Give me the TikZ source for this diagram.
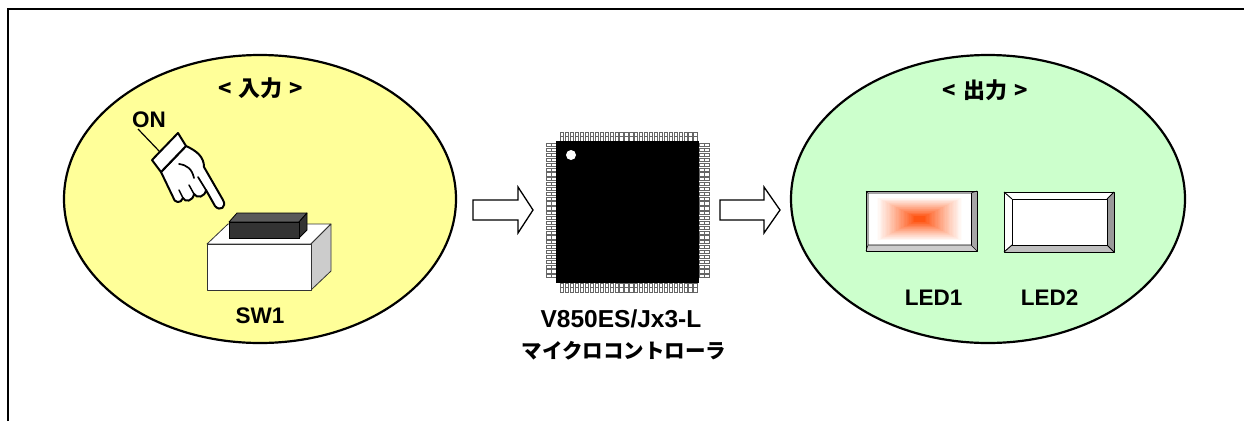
\documentclass[tikz,border=0pt]{standalone}
\usepackage{fontspec}
\setmainfont{Liberation Sans}
\newfontfamily\jp{Noto Sans CJK JP}
\usetikzlibrary{shapes.geometric}
\definecolor{inyellow}{HTML}{FFFF99}
\definecolor{outgreen}{HTML}{CCFFCC}
\definecolor{ledorange}{RGB}{255,85,20}
\definecolor{btnfront}{HTML}{333333}
\definecolor{btntop}{HTML}{5A5A5A}
\tikzset{
  lbl/.style={font=\bfseries\fontsize{22.5}{26}\selectfont, inner sep=0pt, anchor=base},
  biglbl/.style={font=\bfseries\fontsize{24.5}{28}\selectfont, inner sep=0pt, anchor=base},
  jlbl/.style={font=\jp\bfseries\fontsize{22}{26}\selectfont, inner sep=0pt},
  bubble/.style={ellipse, draw=black, line width=2.2pt, inner sep=0pt},
  blockarrow/.style={draw=black, line width=1.3pt, fill=white, line join=miter},
  pinbox/.style={draw=black!60, fill=white, line width=0.45pt},
  handline/.style={draw=black, line width=2pt, fill=white, line join=round},
  facebox/.style={draw=black!80, line width=0.8pt, line join=round},
  ledline/.style={draw=black, line width=0.9pt, line join=round},
}
\begin{document}
\begin{tikzpicture}[x=1pt,y=-1pt]
\useasboundingbox (0,0) rectangle (1244,421);
% frame
\draw[line width=2pt] (8,421) -- (8,9) -- (1244,9);

% bubbles
\node[bubble, fill=inyellow, minimum width=392pt, minimum height=288pt] (inbub) at (260,199) {};
\node[bubble, fill=outgreen, minimum width=394pt, minimum height=288pt] (outbub) at (988,199) {};
\node[jlbl] (intitle) at (261,88) {<\hspace{7pt}入力\hspace{7pt}>};
\node[jlbl] (outtitle) at (985,90) {<\hspace{7pt}出力\hspace{7pt}>};

% ---- switch ----
\fill[white, facebox] (207,244) -- (228,224) -- (331,224) -- (311,244) -- cycle;
\fill[black!20, facebox] (311,244) -- (331,224) -- (331,271) -- (311,290) -- cycle;
\fill[white, facebox] (207,244) rectangle (311,290);
% button
\filldraw[fill=btntop, draw=black, line width=0.8pt, line join=round] (229,222) -- (237,213) -- (307,213) -- (299,222) -- cycle;
\filldraw[fill=btnfront, draw=black, line width=0.8pt, line join=round] (299,222) -- (307,213) -- (307,230) -- (299,238) -- cycle;
\filldraw[fill=btnfront, draw=black, line width=0.8pt] (229,222) rectangle (299,238);
\node[lbl] (sw1) at (260,323) {SW1};

% ---- hand ----
\node[lbl] (on) at (149,127) {ON};
\coordinate (onfoot) at (138,129);
\coordinate (cuffend) at (160,152);
\draw[line width=1.2pt] (onfoot) -- (cuffend);
\draw[handline] (186,146) .. controls (197,151) and (204,157) .. (204,167)
  -- (223,200) .. controls (227,207) and (220,212) .. (215,206)
  -- (206,190)
  .. controls (205,197) and (197,199) .. (194,194)
  .. controls (193,201) and (185,203) .. (183,198)
  .. controls (181,204) and (174,203) .. (173,197)
  -- (161,172) -- cycle;
\draw[line width=1.7pt, line cap=round] (179,164) .. controls (187,165) and (192,169) .. (194,178);
\draw[line width=1.7pt, line cap=round] (206,190) -- (198,177);
\draw[line width=1.5pt, line cap=round] (194,194) -- (189,185);
\draw[line width=1.5pt, line cap=round] (183,198) -- (179,190);
\draw[handline] (152,160) -- (178,133) -- (186,146) -- (161,172) -- cycle;

% ---- arrows ----
\draw[blockarrow] (473,200) -- (518,200) -- (518,187) -- (533,210) -- (518,233) -- (518,220) -- (473,220) -- cycle;
\draw[blockarrow] (720,200) -- (764,200) -- (764,187) -- (780,210) -- (764,233) -- (764,220) -- (720,220) -- cycle;

% ---- microcontroller ----
\foreach \i in {0,...,27}{
  \pgfmathsetmacro\px{560.5+\i*4.93}
  \draw[pinbox] (\px,132) rectangle ++(3.2,9);
  \draw[black!60, line width=0.4pt] (\px,136.5) -- ++(3.2,0);
  \draw[pinbox] (\px,283) rectangle ++(3.2,9);
  \draw[black!60, line width=0.4pt] (\px,287.5) -- ++(3.2,0);
  \pgfmathsetmacro\py{143.5+\i*4.85}
  \draw[pinbox] (546,\py) rectangle ++(10,3.2);
  \draw[black!60, line width=0.4pt] (551,\py) -- ++(0,3.2);
  \draw[pinbox] (699,\py) rectangle ++(10,3.2);
  \draw[black!60, line width=0.4pt] (704,\py) -- ++(0,3.2);
}
\node[fill=black, minimum width=143pt, minimum height=142pt, inner sep=0pt] (mcu) at (627.5,212) {};
\fill[white] (571,155) circle (5pt);
\node[biglbl] (mcuname) at (621,327) {V850ES/Jx3-L};
\node[jlbl, font=\jp\bfseries\fontsize{20.5}{24}\selectfont] (mcujp) at (624,351) {マイクロコントローラ};

% ---- LED1 ----
\fill[white] (866,191) rectangle (977,251);
\foreach \i in {0,...,39}{
  \pgfmathsetmacro\s{1-\i/40}
  \pgfmathsetmacro\t{min(1,max(0,(\i/40-0.15)/0.75))}
  \pgfmathtruncatemacro\p{min(100,max(0,100*\t^1.1))}
  \fill[ledorange!\p!white] ({919.5-51.5*\s},{219-26*\s}) rectangle ({919.5+51.5*\s},{219+26*\s});
}
\fill[black!35] (977,191) -- (977,251) -- (971,245) -- (971,193) -- cycle;
\fill[black!20] (866,251) -- (977,251) -- (971,245) -- (868,245) -- cycle;
\draw[ledline] (866,191) rectangle (977,251);
\draw[black, line width=0.6pt] (866,191) -- (868,193) -- (971,193) -- (977,191);
\draw[black, line width=0.6pt] (868,193) -- (868,245) -- (866,251);
\draw[black, line width=0.6pt] (868,245) -- (971,245) -- (977,251);
\draw[black, line width=0.6pt] (971,193) -- (971,245);
\node[lbl] (led1) at (933.5,305) {LED1};

% ---- LED2 ----
\fill[white] (1004,192) rectangle (1114,252);
\fill[black!40] (1114,192) -- (1114,252) -- (1107,245) -- (1107,199) -- cycle;
\fill[black!25] (1004,252) -- (1114,252) -- (1107,245) -- (1012,245) -- cycle;
\draw[ledline] (1004,192) rectangle (1114,252);
\draw[ledline] (1012,199) rectangle (1107,245);
\draw[ledline] (1004,192) -- (1012,199);
\draw[ledline] (1114,192) -- (1107,199);
\draw[ledline] (1004,252) -- (1012,245);
\draw[ledline] (1114,252) -- (1107,245);
\node[lbl] (led2) at (1049.5,305) {LED2};
\end{tikzpicture}
\end{document}
